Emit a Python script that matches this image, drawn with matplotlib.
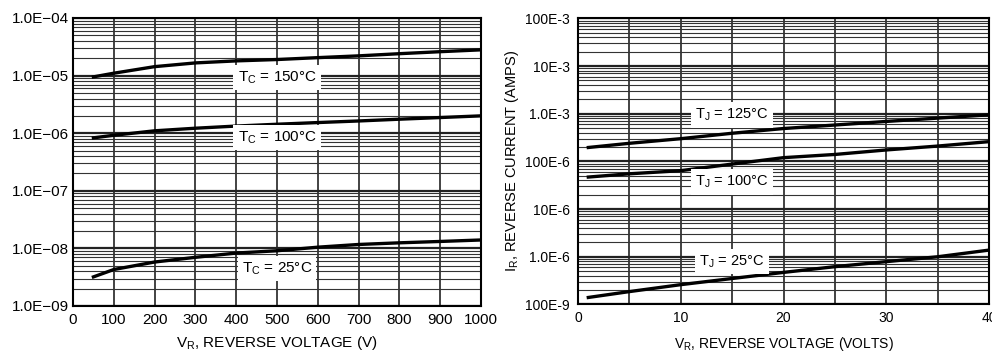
import matplotlib
matplotlib.use("Agg")
import numpy as np
from matplotlib import pyplot as plt
from matplotlib.ticker import FixedLocator, LogLocator, NullFormatter

plt.rcParams['font.family'] = ['Liberation Sans', 'DejaVu Sans']

# left chart: reverse current vs voltage, 0..1000 V
vr_left = [50, 100, 200, 300, 400, 500, 600, 700, 800, 900, 1000]
ir_150 = [9.5e-6, 1.1e-5, 1.43e-5, 1.66e-5, 1.8e-5, 1.9e-5, 2.05e-5, 2.2e-5, 2.4e-5, 2.6e-5, 2.8e-5]
ir_100 = [8.3e-7, 9.2e-7, 1.1e-6, 1.22e-6, 1.33e-6, 1.43e-6, 1.53e-6, 1.63e-6, 1.75e-6, 1.87e-6, 2.0e-6]
ir_25 = [3.2e-9, 4.3e-9, 5.8e-9, 7.0e-9, 8.3e-9, 9.1e-9, 1.05e-8, 1.17e-8, 1.25e-8, 1.32e-8, 1.4e-8]
left_labels = ["T$_\\mathregular{C}$ = 150°C", "T$_\\mathregular{C}$ = 100°C", "T$_\\mathregular{C}$ = 25°C"]
left_label_pos = [(500, 9.2e-6), (500, 8.5e-7), (500, 4.5e-9)]
left_yticks = [1e-9, 1e-8, 1e-7, 1e-6, 1e-5, 1e-4]
left_yticklabels = ["1.0E\u221209", "1.0E\u221208", "1.0E\u221207", "1.0E\u221206", "1.0E\u221205", "1.0E\u221204"]

# right chart: 0..40 V
vr_right = [1, 5, 10, 15, 20, 25, 30, 35, 40]
ij_125 = [1.96e-4, 2.4e-4, 3.0e-4, 3.9e-4, 4.9e-4, 5.8e-4, 6.9e-4, 8.1e-4, 9.5e-4]
ij_100 = [4.7e-5, 5.5e-5, 6.4e-5, 8.8e-5, 1.2e-4, 1.4e-4, 1.74e-4, 2.1e-4, 2.6e-4]
ij_25 = [1.4e-7, 1.86e-7, 2.6e-7, 3.5e-7, 4.7e-7, 6.2e-7, 7.9e-7, 1.0e-6, 1.38e-6]
right_labels = ["T$_\\mathregular{J}$ = 125°C", "T$_\\mathregular{J}$ = 100°C", "T$_\\mathregular{J}$ = 25°C"]
right_label_pos = [(15, 9.4e-4), (15, 3.7e-5), (15, 7.9e-7)]
right_yticks = [1e-7, 1e-6, 1e-5, 1e-4, 1e-3, 1e-2, 1e-1]
right_yticklabels = ["100E-9", "1.0E-6", "10E-6", "100E-6", "1.0E-3", "10E-3", "100E-3"]


def style_log_grid(ax, xgrid, ypad):
    ax.set_yscale('log')
    ax.yaxis.set_minor_locator(LogLocator(base=10, subs=np.arange(2, 10)))
    ax.yaxis.set_minor_formatter(NullFormatter())
    ax.xaxis.set_minor_locator(FixedLocator(xgrid))
    ax.grid(True, which='major', axis='y', color='#222222', lw=1.6)
    ax.grid(True, which='minor', axis='y', color='#333333', lw=0.8)
    ax.grid(True, which='both', axis='x', color='#222222', lw=1.2)
    ax.tick_params(which='both', length=0, labelsize=11)
    ax.tick_params(axis='y', pad=ypad)
    ax.tick_params(axis='x', pad=5)
    for s in ax.spines.values():
        s.set_linewidth(1.5)
    ax.set_axisbelow(True)


fig = plt.figure(figsize=(9.92, 3.54), dpi=100)

ax1 = fig.add_axes([0.0736, 0.1356, 0.4114, 0.8136])
for ir in (ir_150, ir_100, ir_25):
    ax1.plot(vr_left, ir, color='black', lw=2.4, zorder=3)
style_log_grid(ax1, np.arange(0, 1001, 100), 3)
ax1.set_xlim(0, 1000)
ax1.set_ylim(1e-9, 1e-4)
ax1.set_xticks(np.arange(0, 1001, 100))
ax1.set_yticks(left_yticks)
ax1.set_yticklabels(left_yticklabels)
for txt, (x, y) in zip(left_labels, left_label_pos):
    ax1.text(x, y, txt, ha='center', va='center', fontsize=11, zorder=4,
             bbox=dict(facecolor='white', edgecolor='none', pad=3))
ax1.set_xlabel("V$_\\mathregular{R}$, REVERSE VOLTAGE (V)", fontsize=11, labelpad=5)

ax2 = fig.add_axes([0.5827, 0.14, 0.4143, 0.808])
for ij in (ij_125, ij_100, ij_25):
    ax2.plot(vr_right, ij, color='black', lw=2.4, zorder=3)
style_log_grid(ax2, np.arange(0, 41, 5), 6)
ax2.tick_params(labelsize=10)
ax2.set_xlim(0, 40)
ax2.set_ylim(1e-7, 1e-1)
ax2.set_xticks([0, 10, 20, 30, 40])
ax2.set_yticks(right_yticks)
ax2.set_yticklabels(right_yticklabels)
for txt, (x, y) in zip(right_labels, right_label_pos):
    ax2.text(x, y, txt, ha='center', va='center', fontsize=10.5, zorder=4,
             bbox=dict(facecolor='white', edgecolor='none', pad=3))
ax2.set_xlabel("V$_\\mathregular{R}$, REVERSE VOLTAGE (VOLTS)", fontsize=10, labelpad=7)
ax2.set_ylabel("I$_\\mathregular{R}$, REVERSE CURRENT (AMPS)", fontsize=10.5, labelpad=3)

plt.savefig("out.png", dpi=100)
